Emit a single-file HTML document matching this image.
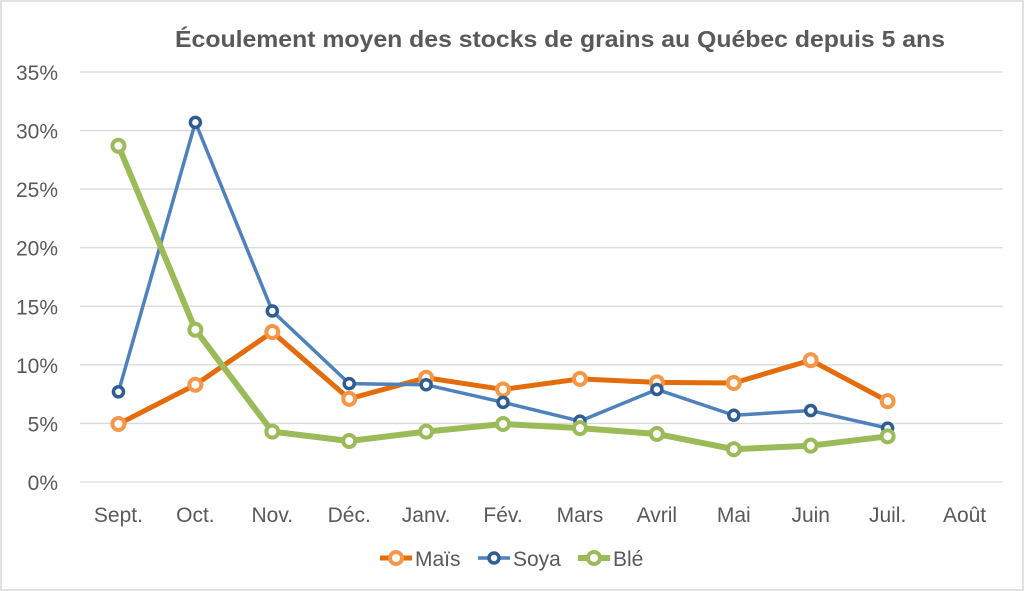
<!DOCTYPE html>
<html><head><meta charset="utf-8"><style>
html,body{margin:0;padding:0;background:#fff;}
svg{display:block;font-family:"Liberation Sans",sans-serif;}
</style></head><body>
<svg id="chart" width="1024" height="591" viewBox="0 0 1024 591">
<rect x="1" y="1" width="1022" height="589" fill="#fff" stroke="#d9d9d9" stroke-width="1.5"/>
<text x="175" y="47" textLength="770" lengthAdjust="spacingAndGlyphs" font-size="23" font-weight="bold" fill="#595959">Écoulement moyen des stocks de grains au Québec depuis 5 ans</text>
<g id="grid"></g><g id="ylabels"></g><g id="xlabels"></g><g id="series"></g>
<g id="legend"></g>
</svg>
<script>
const categories=["Sept.","Oct.","Nov.","Déc.","Janv.","Fév.","Mars","Avril","Mai","Juin","Juil.","Août"];
const yTicks=[0,5,10,15,20,25,30,35];
const yTickLabels=["0%","5%","10%","15%","20%","25%","30%","35%"];
const mais=[4.95,8.3,12.8,7.1,8.9,7.9,8.8,8.5,8.45,10.4,6.9];
const soya=[7.7,30.7,14.6,8.4,8.3,6.8,5.2,7.9,5.7,6.1,4.6];
const ble=[28.7,13.0,4.3,3.5,4.3,4.95,4.6,4.1,2.8,3.1,3.9];
const seriesNames=["Maïs","Soya","Blé"];
const NS="http://www.w3.org/2000/svg";
const x0=80,x1=1003,y0=482,y1=72;
const step=(x1-x0)/categories.length;
function xs(i){return x0+step*(i+0.5);}
function ys(v){return y0-(v/35)*(y0-y1);}
function mk(t,a,p){const e=document.createElementNS(NS,t);for(const k in a)e.setAttribute(k,a[k]);p.appendChild(e);return e;}
const g=document.getElementById('grid');
yTicks.forEach((t,i)=>{
 const l=mk('line',{x1:x0,x2:x1,y1:ys(t),y2:ys(t),stroke:'#d9d9d9','stroke-width':1.3},g);
 
 
 const tx=mk('text',{x:58,y:ys(t)+8,'text-anchor':'end','font-size':21,fill:'#595959'},document.getElementById('ylabels'));
 tx.textContent=yTickLabels[i];
 
 
});
categories.forEach((c,i)=>{
 const tx=mk('text',{x:xs(i),y:522,'text-anchor':'middle','font-size':21,fill:'#595959'},document.getElementById('xlabels'));
 tx.textContent=c;
 
 
});
const styles=[
 {d:mais,line:'#e46c0a',w:5,mfill:'#fff',mstroke:'#f79646',mw:4,r:6},
 {d:soya,line:'#4f81bd',w:3.5,mfill:'#fff',mstroke:'#2f5d93',mw:3.5,r:5},
 {d:ble,line:'#9bbb59',w:6,mfill:'#fff',mstroke:'#9bbb59',mw:4,r:6}
];
const sg=document.getElementById('series');
styles.forEach((s,k)=>{
 const grp=mk('g',{},sg);
 
 
 const pts=s.d.map((v,i)=>xs(i)+','+ys(v)).join(' ');
 const pl=mk('polyline',{points:pts,fill:'none',stroke:s.line,'stroke-width':s.w,'stroke-linejoin':'round'},grp);
 
 
 s.d.forEach((v,i)=>{
  const c=mk('circle',{cx:xs(i),cy:ys(v),r:s.r,fill:s.mfill,stroke:s.mstroke,'stroke-width':s.mw},grp);
  
  
 });
});
const lg=document.getElementById('legend');
const lx=[380,478,578];
styles.forEach((s,k)=>{
 const e=mk('g',{},lg);
 
 
 mk('line',{x1:lx[k],x2:lx[k]+32,y1:558,y2:558,stroke:s.line,'stroke-width':s.w},e);
 mk('circle',{cx:lx[k]+16,cy:558,r:s.r,fill:s.mfill,stroke:s.mstroke,'stroke-width':s.mw},e);
 const t=mk('text',{x:lx[k]+35,y:566,'font-size':21,fill:'#595959'},e);
 t.textContent=seriesNames[k];
});
</script>
</body></html>
